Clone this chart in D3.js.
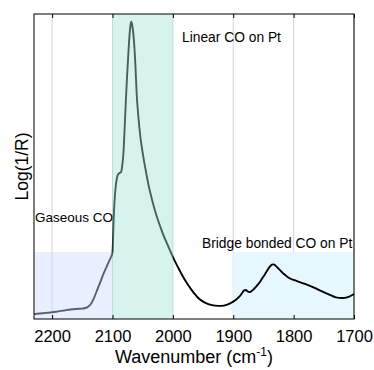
<!DOCTYPE html>
<html>
<head>
<meta charset="utf-8">
<script src="https://cdn.jsdelivr.net/npm/d3@7"></script>
<style>
  html, body { margin: 0; padding: 0; background: #fff; }
  svg { display: block; font-family: "Liberation Sans", Arial, Helvetica, sans-serif; }
</style>
</head>
<body>
<svg id="chart" width="374" height="370"></svg>
<script>
// DRIFTS spectrum of CO adsorbed on Pt
const wavenumber = [2230, 2220, 2210, 2200, 2190, 2180, 2170, 2160, 2150, 2145, 2140, 2135, 2130, 2125, 2120, 2115, 2110, 2105, 2102, 2100, 2098, 2096, 2094, 2092, 2090, 2088, 2086, 2084, 2082, 2080, 2078, 2076, 2074, 2072, 2070, 2069, 2068, 2066, 2064, 2062, 2060, 2057, 2054, 2050, 2045, 2040, 2035, 2030, 2025, 2020, 2015, 2010, 2005, 2000, 1995, 1990, 1985, 1980, 1975, 1970, 1965, 1960, 1955, 1950, 1945, 1940, 1930, 1920, 1910, 1900, 1895, 1890, 1885, 1882, 1879, 1876, 1873, 1870, 1865, 1860, 1855, 1850, 1845, 1840, 1836, 1833, 1830, 1825, 1820, 1815, 1810, 1805, 1800, 1790, 1780, 1770, 1760, 1750, 1740, 1730, 1720, 1710, 1700];
const absorbance = [0.016, 0.018, 0.020, 0.022, 0.025, 0.028, 0.031, 0.033, 0.034, 0.036, 0.041, 0.052, 0.072, 0.097, 0.122, 0.148, 0.170, 0.192, 0.205, 0.218, 0.330, 0.405, 0.445, 0.468, 0.476, 0.479, 0.481, 0.500, 0.540, 0.620, 0.710, 0.790, 0.860, 0.925, 0.965, 0.975, 0.970, 0.945, 0.900, 0.830, 0.740, 0.660, 0.600, 0.545, 0.488, 0.436, 0.395, 0.358, 0.326, 0.298, 0.272, 0.249, 0.226, 0.204, 0.183, 0.164, 0.145, 0.128, 0.112, 0.098, 0.085, 0.073, 0.064, 0.057, 0.052, 0.048, 0.044, 0.043, 0.047, 0.057, 0.064, 0.073, 0.086, 0.094, 0.095, 0.090, 0.088, 0.091, 0.100, 0.111, 0.124, 0.139, 0.155, 0.170, 0.178, 0.179, 0.175, 0.165, 0.155, 0.146, 0.138, 0.132, 0.128, 0.121, 0.114, 0.106, 0.097, 0.088, 0.079, 0.071, 0.069, 0.072, 0.082];

// x-axis ticks
const xTicks = [2200, 2100, 2000, 1900, 1800, 1700];

// Highlighted spectral regions
const bandNames  = ["Gaseous CO", "Linear CO on Pt", "Bridge bonded CO on Pt"];
const bandFrom   = [2230, 2100, 1900];
const bandTo     = [2100, 2000, 1700];
const bandHeight = [0.22, 1.0, 0.22];

const svg = d3.select("#chart");
const margin = { left: 34, right: 20, top: 14, bottom: 51 };
const W = 374, H = 370;
const iw = W - margin.left - margin.right;
const ih = H - margin.top - margin.bottom;

const x = d3.scaleLinear().domain([2230, 1700]).range([0, iw]);
const y = d3.scaleLinear().domain([0, 1]).range([ih, 0]);

const g = svg.append("g").attr("transform", `translate(${margin.left},${margin.top})`);

// vertical grid
g.append("g").selectAll("line").data(xTicks).join("line")
  .attr("x1", d => x(d)).attr("x2", d => x(d))
  .attr("y1", 0).attr("y2", ih)
  .attr("stroke", "#d4d4d4").attr("stroke-width", 1);

// bridge-bonded band sits under the curve
g.append("rect")
  .attr("x", x(bandFrom[2])).attr("width", x(bandTo[2]) - x(bandFrom[2]))
  .attr("y", y(bandHeight[2])).attr("height", ih - y(bandHeight[2]))
  .attr("fill", "#e6f7fd");

// spectrum
const line = d3.line().x((d, i) => x(wavenumber[i])).y(d => y(d)).curve(d3.curveMonotoneX);
g.append("path").datum(absorbance)
  .attr("d", line)
  .attr("fill", "none")
  .attr("stroke", "#000")
  .attr("stroke-width", 1.9)
  .attr("stroke-linejoin", "round");

// translucent bands over the curve
g.append("rect")
  .attr("x", x(bandFrom[0])).attr("width", x(bandTo[0]) - x(bandFrom[0]))
  .attr("y", y(bandHeight[0])).attr("height", ih - y(bandHeight[0]))
  .attr("fill", "rgb(204,218,254)").attr("fill-opacity", 0.44);
g.append("rect")
  .attr("x", x(bandFrom[1])).attr("width", x(bandTo[1]) - x(bandFrom[1]))
  .attr("y", y(bandHeight[1])).attr("height", ih - y(bandHeight[1]))
  .attr("fill", "rgb(160,228,214)").attr("fill-opacity", 0.43);

// frame
g.append("rect").attr("x", 0).attr("y", 0).attr("width", iw).attr("height", ih)
  .attr("fill", "none").attr("stroke", "#000").attr("stroke-width", 1);

// bottom axis with inward ticks
const xAxis = d3.axisBottom(x).tickValues(xTicks).tickSize(-4).tickPadding(11).tickFormat(d3.format("d"));
const ax = g.append("g").attr("transform", `translate(0,${ih})`).call(xAxis);
ax.select(".domain").remove();
ax.selectAll("text").attr("font-size", 16.5).attr("fill", "#000")
  .attr("font-family", "Liberation Sans, Arial, sans-serif");
ax.selectAll(".tick line").attr("stroke", "#000");

// top inward ticks
const axTop = g.append("g").call(d3.axisTop(x).tickValues(xTicks).tickSize(-4).tickFormat(""));
axTop.select(".domain").remove();
axTop.selectAll(".tick line").attr("stroke", "#000");

// axis titles
const xt = svg.append("text")
  .attr("x", 194).attr("y", 363)
  .attr("text-anchor", "middle").attr("font-size", 18).attr("fill", "#000");
xt.append("tspan").text("Wavenumber (cm");
xt.append("tspan").attr("font-size", 12).attr("dy", -7).text("-1");
xt.append("tspan").attr("dy", 7).text(")");

svg.append("text")
  .attr("transform", `translate(28,${margin.top + ih / 2}) rotate(-90)`)
  .attr("text-anchor", "middle").attr("font-size", 17.5).attr("fill", "#000")
  .text("Log(1/R)");

// region labels
svg.append("text").attr("x", 35).attr("y", 222).attr("font-size", 13.5).attr("fill", "#000").text(bandNames[0]);
svg.append("text").attr("x", 182).attr("y", 42).attr("font-size", 13.8).attr("fill", "#000").text(bandNames[1]);
svg.append("text").attr("x", 202).attr("y", 248).attr("font-size", 13.8).attr("fill", "#000").text(bandNames[2]);
</script>
</body>
</html>
